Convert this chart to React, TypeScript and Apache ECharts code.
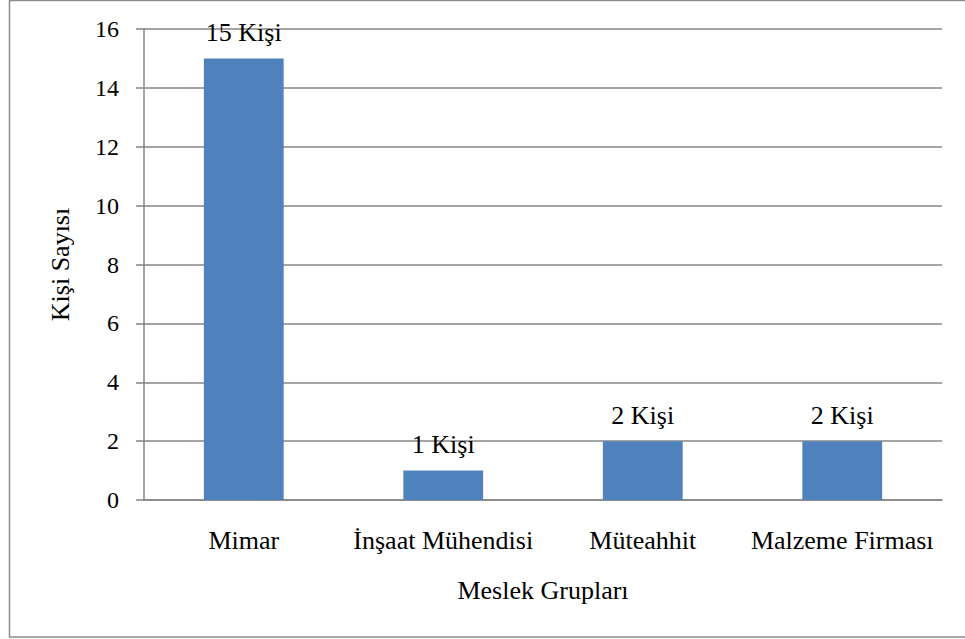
import React, { useEffect, useRef } from "react";
import * as echarts from "echarts";

const categories: string[] = ["Mimar", "İnşaat Mühendisi", "Müteahhit", "Malzeme Firması"];
const counts: number[] = [15, 1, 2, 2];
const yTicks: number[] = [0, 2, 4, 6, 8, 10, 12, 14, 16];
const xTitle = "Meslek Grupları";
const yTitle = "Kişi Sayısı";
const unit = "Kişi";

const FONT = "Liberation Serif";
const GRID_GRAY = "#868686";

export default function App() {
  const ref = useRef<HTMLDivElement>(null);

  useEffect(() => {
    if (!ref.current) return;
    const chart = echarts.init(ref.current, null, { renderer: "svg" });
    chart.setOption({
      animation: false,
      backgroundColor: "#ffffff",
      textStyle: { fontFamily: FONT, color: "#000" },
      graphic: [
        {
          type: "rect",
          shape: { x: 9.5, y: 0.5, width: 970, height: 636.5 },
          style: { fill: "none", stroke: "#8c8c8c", lineWidth: 1.5 },
          silent: true,
        },
      ],
      grid: { left: 144, right: 23, top: 29, bottom: 139, containLabel: false },
      xAxis: {
        type: "category",
        data: categories,
        name: xTitle,
        nameLocation: "middle",
        nameGap: 77,
        nameTextStyle: { fontFamily: FONT, fontSize: 26, color: "#000" },
        axisLine: { show: true, lineStyle: { color: GRID_GRAY, width: 1.5 } },
        axisTick: { show: false },
        axisLabel: { fontFamily: FONT, fontSize: 26, color: "#000", margin: 27, interval: 0 },
      },
      yAxis: {
        type: "value",
        min: yTicks[0],
        max: yTicks[yTicks.length - 1],
        interval: yTicks[1] - yTicks[0],
        name: yTitle,
        nameLocation: "middle",
        nameRotate: 90,
        nameGap: 71,
        nameTextStyle: { fontFamily: FONT, fontSize: 26, color: "#000" },
        axisLine: { show: true, lineStyle: { color: GRID_GRAY, width: 1.5 } },
        axisTick: { show: true, inside: false, length: 8, lineStyle: { color: GRID_GRAY, width: 1.5 } },
        axisLabel: { fontFamily: FONT, fontSize: 24, color: "#000", margin: 25 },
        splitLine: { show: true, lineStyle: { color: GRID_GRAY, width: 1.5 } },
      },
      series: [
        {
          type: "bar",
          data: counts,
          barWidth: "40%",
          itemStyle: { color: "#4F81BD" },
          label: {
            show: true,
            position: "top",
            distance: 13,
            fontFamily: FONT,
            fontSize: 26,
            color: "#000",
            formatter: (p: any) => `${p.value} ${unit}`,
          },
        },
      ],
    });
    return () => chart.dispose();
  }, []);

  return (
    <div
      ref={ref}
      style={{ position: "fixed", left: 0, top: 0, width: 965, height: 639, background: "#fff" }}
    />
  );
}
